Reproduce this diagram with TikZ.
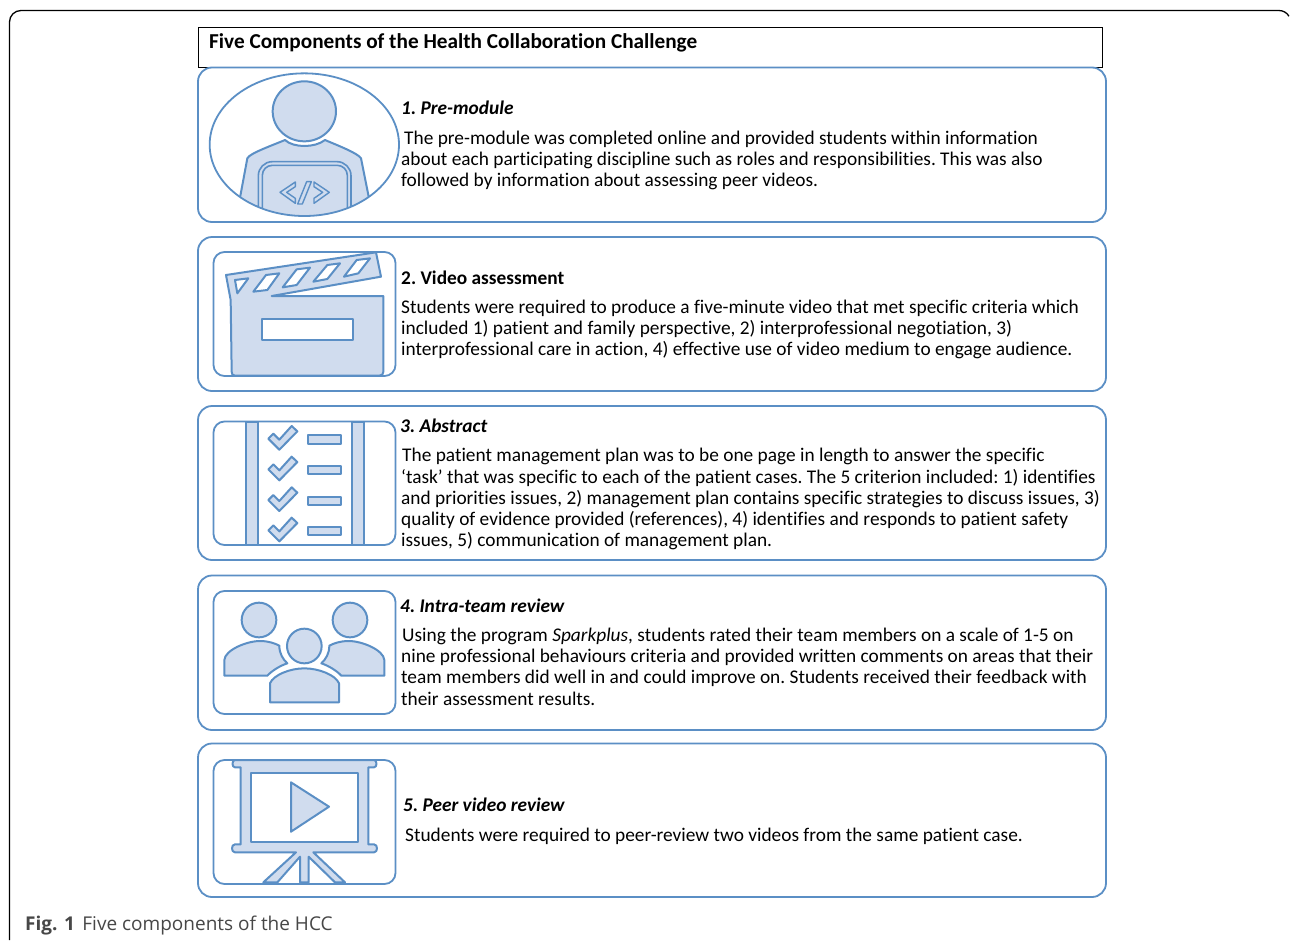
\documentclass[tikz,border=0pt]{standalone}
\usepackage{fontspec}
\setmainfont[Ligatures=NoCommon]{Carlito}
\newfontfamily\capfont{Open Sans}
\definecolor{bl}{HTML}{5B8FC5}
\definecolor{lf}{HTML}{D0DCEE}
\newcommand{\fs}{\fontsize{19.35}{21}\selectfont\frenchspacing}
\newcommand{\st}{\rule{0pt}{14pt}}
\tikzset{
  frame/.style={draw=black,line width=1.3pt},
  titlebox/.style={draw=black,line width=1pt},
  outerbox/.style={draw=bl,line width=1.8pt,rounded corners=14pt},
  innerbox/.style={draw=bl,line width=1.8pt,rounded corners=11pt},
  ic/.style={draw=bl,fill=lf,line width=2pt,line join=round},
  hole/.style={draw=bl,fill=white,line width=2pt,line join=round},
  para/.style={anchor=north west,inner sep=0pt,align=left,font=\fs,text=black},
  head/.style={para,font=\fs\bfseries},
  zoomA/.style={x=0.33333pt,y=-0.33333pt},
}
\begin{document}
\begin{tikzpicture}[x=1pt,y=-1pt]
\useasboundingbox (0,0) rectangle (1290,940);
\fill[white] (0,0) rectangle (1290,940);
\draw[frame] (9.5,940) -- (9.5,22) arc[start angle=180,end angle=90,radius=11.5pt] -- (1279,10.5) arc[start angle=90,end angle=30,radius=11.5pt];
\node[titlebox,anchor=north west,minimum width=903.5pt,minimum height=40pt,inner sep=0pt] (titlebox) at (198,27) {};
\node[head,font=\fontsize{21.25}{21}\selectfont\bfseries] (title) at (209,33) {\st Five Components of the Health Collaboration Challenge};
% boxes
\draw[outerbox] (198,67.5) rectangle (1106,222);
\draw[outerbox] (198,237) rectangle (1106,391);
\draw[outerbox] (198,406) rectangle (1106,560);
\draw[outerbox] (198,575.5) rectangle (1106,730);
\draw[outerbox] (198,743.5) rectangle (1106,897);
\draw[innerbox] (213.5,252) rectangle (395.5,376);
\draw[innerbox] (213.5,421.5) rectangle (395.5,545);
\draw[innerbox] (213.5,591) rectangle (395.5,714);
\draw[innerbox] (213.5,760) rectangle (395.5,884);
% icon 1
\begin{scope}[shift={(190,60)},zoomA]
\begin{scope}
\clip (343,254) ellipse[x radius=284,y radius=214];
\draw[ic] (145,440) -- (172,295) .. controls (178,280) and (250,255) .. (285,240) .. controls (310,264) and (375,264) .. (405,240) .. controls (440,255) and (505,280) .. (513,295) -- (542,440) -- cycle;
\draw[ic,line width=1.6pt,rounded corners=14pt] (205,480) -- (205,305) -- (483,305) -- (483,480);
\draw[ic,line width=1.6pt,rounded corners=10pt] (217,480) -- (217,316) -- (472,316) -- (472,480);
\end{scope}
\draw[bl,line width=1.8pt] (343,254) ellipse[x radius=284,y radius=214];
\draw[ic] (343,154) ellipse[x radius=95,y radius=90];
\draw[ic,line width=1.4pt] (316,366) -- (270,397) -- (316,430) -- (316,415) -- (290,397) -- (316,380) -- cycle;
\draw[ic,line width=1.4pt] (372,366) -- (418,397) -- (372,430) -- (372,415) -- (398,397) -- (372,380) -- cycle;
\draw[ic,line width=1.4pt] (350,365) -- (364,365) -- (337,432) -- (323,432) -- cycle;
\end{scope}
% icon 2
\begin{scope}[shift={(190,235)},zoomA]
\draw[ic] (122,195) -- (108,120) -- (558,52) -- (573,125) -- (245,183) -- (580,183) -- (580,410) .. controls (580,418) and (576,422) .. (568,422) -- (135,422) .. controls (128,422) and (125,418) .. (125,410) -- cycle;
\draw[hole] (135,135) -- (175,130) -- (142,175) -- cycle;
\draw[hole] (228,120) -- (268,115) -- (232,165) -- (190,170) -- cycle;
\draw[hole] (320,103) -- (360,98) -- (320,150) -- (278,157) -- cycle;
\draw[hole] (412,90) -- (450,85) -- (412,132) -- (370,140) -- cycle;
\draw[hole] (500,75) -- (540,70) -- (505,115) -- (462,125) -- cycle;
\draw[hole] (215,252) rectangle (488,316);
\end{scope}
% icon 3
\begin{scope}[shift={(190,405)},zoomA]
\draw[ic] (167,50) rectangle (203,420);
\draw[ic] (485,50) rectangle (521,420);
\foreach \d in {0,92,184,275}{
\draw[ic,yshift=-\d*0.33333pt] (235,101) -- (250,86) -- (268,104) -- (305,63) -- (322,79) -- (268,134) -- cycle;
\draw[ic,yshift=-\d*0.33333pt] (354,91) rectangle (452,116);
}
\end{scope}
% icon 4
\begin{scope}[shift={(190,575)},zoomA]
\draw[ic] (207,135) circle[radius=52];
\draw[ic] (480,135) circle[radius=52];
\draw[ic] (343,213) circle[radius=52];
\draw[ic] (103,302) -- (103,255) .. controls (105,225) and (170,198) .. (210,198) .. controls (235,198) and (255,205) .. (268,212) .. controls (268,235) and (278,252) .. (292,265) .. controls (270,272) and (245,288) .. (232,302) -- cycle;
\draw[ic] (583,302) -- (583,255) .. controls (581,225) and (516,198) .. (476,198) .. controls (451,198) and (431,205) .. (418,212) .. controls (418,235) and (408,252) .. (394,265) .. controls (416,272) and (441,288) .. (454,302) -- cycle;
\draw[ic] (240,382) -- (240,325) .. controls (250,300) and (300,280) .. (343,280) .. controls (386,280) and (437,300) .. (447,325) -- (447,382) -- cycle;
\end{scope}
% icon 5
\begin{scope}[shift={(190,745)},zoomA]
\draw[ic] (135,45) -- (552,45) .. controls (562,45) and (562,67) .. (552,67) -- (535,67) -- (535,298) -- (552,298) .. controls (564,298) and (564,322) .. (552,322) -- (370,322) -- (465,412) -- (435,412) -- (356,335) -- (356,412) -- (330,412) -- (330,335) -- (262,412) -- (220,412) -- (318,322) -- (135,322) .. controls (123,322) and (123,298) .. (135,298) -- (152,298) -- (152,67) -- (135,67) .. controls (125,67) and (125,45) .. (135,45) -- cycle;
\draw[hole] (183,84) rectangle (503,290);
\draw[ic] (303,112) -- (303,260) -- (417,185) -- cycle;
\end{scope}
% texts
\node[head,font=\fs\bfseries\itshape] (h1) at (401,100) {\st 1. Pre-module};
\node[para] (p1) at (401,130) {\st\hspace*{3pt}The pre-module was completed online and provided students within information\\about each participating discipline such as roles and responsibilities. This was also\\followed by information about assessing peer videos.};
\node[head] (h2) at (401,270) {\st 2. Video assessment};
\node[para] (p2) at (401,299) {\st Students were required to produce a five-minute video that met specific criteria which\\included 1) patient and family perspective, 2) interprofessional negotiation, 3)\\interprofessional care in action, 4) effective use of video medium to engage audience.};
\node[head,font=\fs\bfseries\itshape] (h3) at (400,418) {\st 3. Abstract};
\node[para] (p3) at (401,447) {\st\hspace*{1pt}The patient management plan was to be one page in length to answer the specific\\[1pt]‘task’ that was specific to each of the patient cases. The 5 criterion included: 1) identifies\\and priorities issues, 2) management plan contains specific strategies to discuss issues, 3)\\quality of evidence provided (references), 4) identifies and responds to patient safety\\issues, 5) communication of management plan.};
\node[head,font=\fs\bfseries\itshape] (h4) at (400,598) {\st 4. Intra-team review};
\node[para] (p4) at (401,627) {\st\hspace*{1pt}Using the program \textit{Sparkplus}, students rated their team members on a scale of 1-5 on\\nine professional behaviours criteria and provided written comments on areas that their\\team members did well in and could improve on. Students received their feedback with\\[1pt]their assessment results.};
\node[head,font=\fs\bfseries\itshape] (h5) at (403,797) {\st 5. Peer video review};
\node[para] (p5) at (405,827) {\st Students were required to peer-review two videos from the same patient case.};
\node[anchor=north west,inner sep=0pt,font=\capfont\fontsize{19}{21}\selectfont,text=black!72] (cap) at (25,916) {\st\textbf{Fig. 1}\hspace{2.5pt} Five components of the HCC};
\end{tikzpicture}
\end{document}
